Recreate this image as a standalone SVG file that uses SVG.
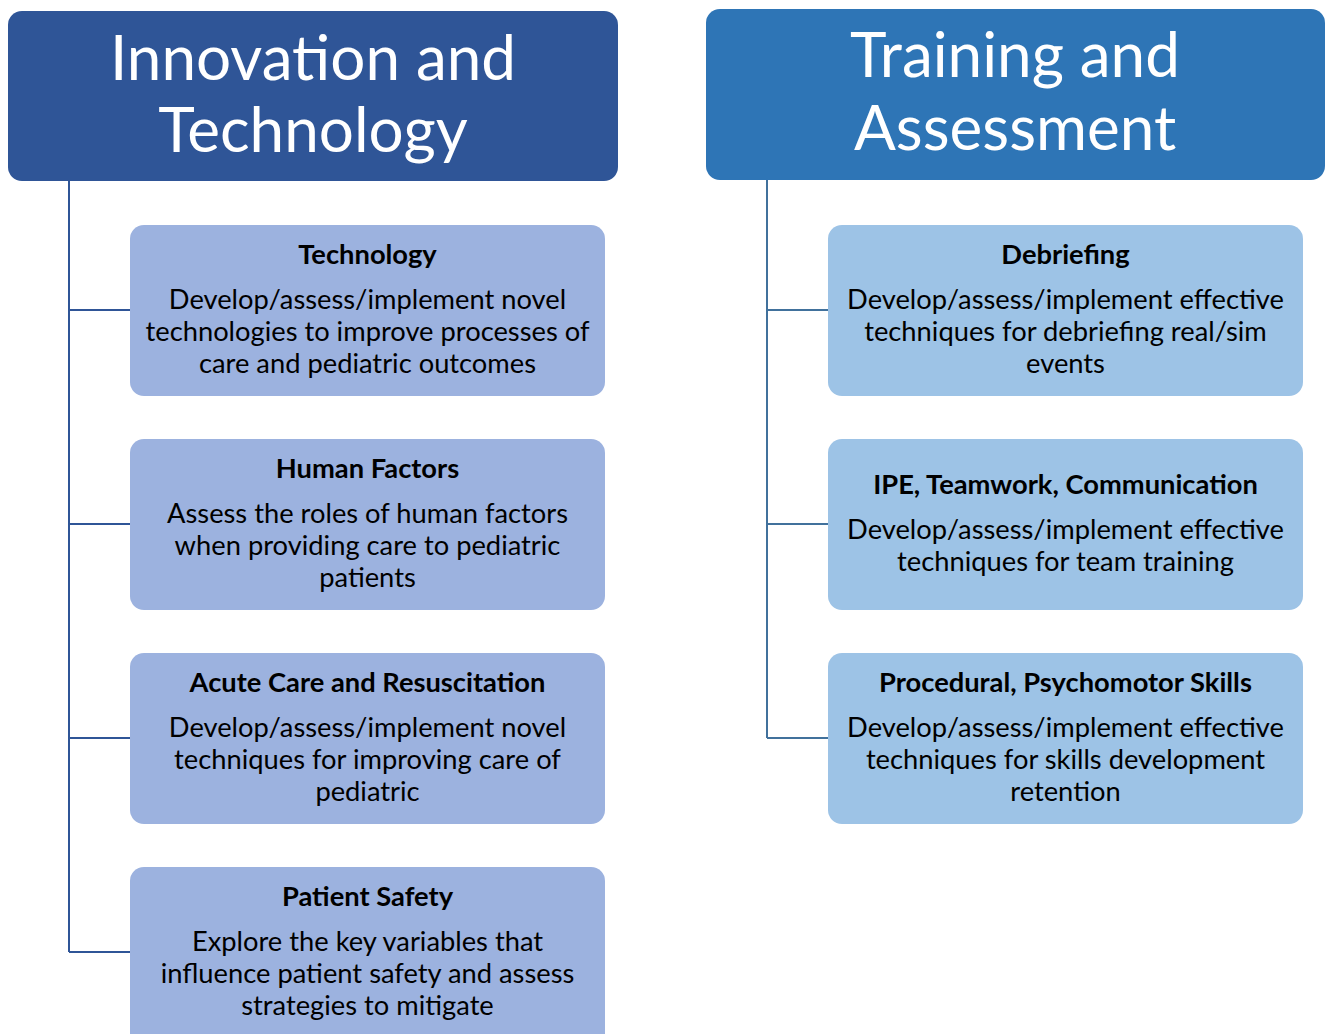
<svg xmlns="http://www.w3.org/2000/svg" width="1325" height="1034" viewBox="0 0 1325 1034">
<style>
.hdr{font-family:Lato,"Open Sans",sans-serif;font-size:62px;fill:#fff;text-anchor:middle}
.t{font-family:Lato,"Open Sans",sans-serif;font-size:27.3px;font-weight:bold;fill:#000;text-anchor:middle}
.b{font-family:Lato,"Open Sans",sans-serif;font-size:27.3px;fill:#000;text-anchor:middle}
.lb{fill:#9CB2DF}
.rb{fill:#9DC3E6}
.cl{stroke:#2F5597;stroke-width:2;fill:none}
.cr{stroke:#41719C;stroke-width:2;fill:none}
</style>
<rect width="1325" height="1034" fill="#fff"/>
<g id="connectors">
<path class="cl" d="M69 181V952M69 310H130M69 524H130M69 738H130M69 952H130"/>
<path class="cr" d="M767 180V738M767 310H828M767 524H828M767 738H828"/>
</g>
<g id="innovation">
<rect x="8" y="11" width="610" height="170" rx="14" fill="#2F5597"/>
<text class="hdr" x="313" y="80">Innovation and</text>
<text class="hdr" x="313" y="152">Technology</text>
</g>
<g id="training">
<rect x="706" y="9" width="619" height="171" rx="14" fill="#2E75B6"/>
<text class="hdr" x="1015" y="77">Training and</text>
<text class="hdr" x="1015" y="150">Assessment</text>
</g>
<g id="technology">
<rect class="lb" x="130" y="225" width="475" height="171" rx="14"/>
<text class="t" x="367.5" y="264">Technology</text>
<text class="b" x="367.5" y="309">Develop/assess/implement novel</text>
<text class="b" x="367.5" y="341">technologies to improve processes of</text>
<text class="b" x="367.5" y="373">care and pediatric outcomes</text>
</g>
<g id="human-factors">
<rect class="lb" x="130" y="439" width="475" height="171" rx="14"/>
<text class="t" x="367.5" y="478">Human Factors</text>
<text class="b" x="367.5" y="523">Assess the roles of human factors</text>
<text class="b" x="367.5" y="555">when providing care to pediatric</text>
<text class="b" x="367.5" y="587">patients</text>
</g>
<g id="acute-care">
<rect class="lb" x="130" y="653" width="475" height="171" rx="14"/>
<text class="t" x="367.5" y="692">Acute Care and Resuscitation</text>
<text class="b" x="367.5" y="737">Develop/assess/implement novel</text>
<text class="b" x="367.5" y="769">techniques for improving care of</text>
<text class="b" x="367.5" y="801">pediatric</text>
</g>
<g id="patient-safety">
<rect class="lb" x="130" y="867" width="475" height="185" rx="14"/>
<text class="t" x="367.5" y="906">Patient Safety</text>
<text class="b" x="367.5" y="951">Explore the key variables that</text>
<text class="b" x="367.5" y="983">influence patient safety and assess</text>
<text class="b" x="367.5" y="1015">strategies to mitigate</text>
</g>
<g id="debriefing">
<rect class="rb" x="828" y="225" width="475" height="171" rx="14"/>
<text class="t" x="1065.5" y="264">Debriefing</text>
<text class="b" x="1065.5" y="309">Develop/assess/implement effective</text>
<text class="b" x="1065.5" y="341">techniques for debriefing real/sim</text>
<text class="b" x="1065.5" y="373">events</text>
</g>
<g id="ipe">
<rect class="rb" x="828" y="439" width="475" height="171" rx="14"/>
<text class="t" x="1065.5" y="494">IPE, Teamwork, Communication</text>
<text class="b" x="1065.5" y="539">Develop/assess/implement effective</text>
<text class="b" x="1065.5" y="571">techniques for team training</text>
</g>
<g id="procedural">
<rect class="rb" x="828" y="653" width="475" height="171" rx="14"/>
<text class="t" x="1065.5" y="692">Procedural, Psychomotor Skills</text>
<text class="b" x="1065.5" y="737">Develop/assess/implement effective</text>
<text class="b" x="1065.5" y="769">techniques for skills development</text>
<text class="b" x="1065.5" y="801">retention</text>
</g>
</svg>
